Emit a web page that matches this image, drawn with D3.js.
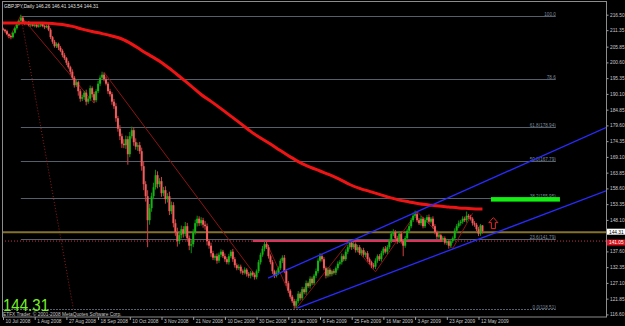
<!DOCTYPE html>
<html>
<head>
<meta charset="utf-8">
<script src="https://cdn.jsdelivr.net/npm/d3@7"></script>
<style>
  html, body { margin: 0; padding: 0; background: #000; }
  svg { display: block; }
</style>
</head>
<body>
<div id="chart"></div>
<script>
// daily closes GBPJPY, 10 Jul 2008 .. 14 May 2009
const closes = [
  211.5,211.0,210.0,209.4,209.0,210.5,212.0,213.2,214.5,215.5,
  214.0,213.5,213.8,213.0,213.3,212.8,213.2,212.5,212.9,213.4,
  212.7,212.3,212.8,211.5,209.0,207.5,206.0,206.8,205.5,204.5,
  203.0,202.0,200.5,199.0,197.5,195.5,193.0,194.0,191.0,188.5,
  189.0,190.5,187.5,188.5,192.0,190.0,188.0,191.0,193.5,195.5,
  196.5,195.0,193.5,191.0,190.0,187.5,186.0,182.0,178.5,176.0,
  173.5,173.0,175.0,170.0,176.0,178.0,174.0,172.5,173.0,171.0,
  166.0,160.0,156.0,148.0,152.0,156.0,159.0,163.0,160.0,161.0,
  157.0,158.0,155.0,156.0,151.0,153.0,147.0,144.0,141.0,143.0,
  145.0,143.5,146.0,142.0,139.5,140.0,144.0,147.0,148.5,147.0,
  148.0,146.5,146.0,141.0,139.5,137.0,135.5,136.0,134.5,136.5,
  137.5,136.0,135.0,134.0,136.0,137.5,135.0,133.0,132.0,132.5,
  131.0,130.5,131.5,130.0,129.5,130.5,129.8,129.0,131.0,134.0,
  136.5,138.5,140.0,139.0,136.0,134.0,131.0,129.5,130.5,132.0,
  134.5,135.5,131.0,127.0,124.5,122.5,121.0,119.5,121.0,123.5,
  122.0,125.0,124.0,127.0,126.0,128.5,127.0,129.5,131.0,134.5,
  136.0,135.0,132.0,129.5,131.5,130.0,131.0,130.5,132.0,133.5,
  134.0,136.0,135.0,137.5,139.0,140.5,139.0,140.0,138.0,139.0,
  137.0,138.0,136.5,137.0,135.0,134.0,133.0,132.5,134.5,136.0,
  135.0,137.0,138.5,137.5,139.0,141.0,143.5,144.0,142.0,141.0,
  143.5,141.0,139.5,142.0,144.5,146.0,148.0,149.5,150.0,148.0,
  147.0,148.5,146.0,148.0,149.0,147.5,148.5,146.0,144.0,142.5,
  143.0,141.5,142.0,140.5,141.0,139.5,141.0,142.0,144.5,146.0,
  147.0,147.5,148.5,148.0,149.5,149.0,148.5,147.0,146.5,145.0,
  143.5,146.26,144.31
];
const firstOpen = 211.8;

// wick lengths above / below the body
const upperWick = [
  0.4,0.3,0.5,0.3,0.4,0.3,0.5,0.4,0.3,1.0,
  0.5,0.3,0.4,0.6,0.3,0.5,0.4,0.3,0.5,0.4,
  0.3,0.5,0.4,0.6,0.5,0.4,0.6,0.5,0.4,0.6,
  0.5,0.7,0.4,0.6,0.5,0.8,0.6,0.9,0.5,0.7,
  0.8,0.6,1.0,0.7,0.9,0.6,0.8,0.7,0.9,0.8,
  1.0,0.7,0.9,0.6,0.8,0.7,0.9,1.0,0.8,1.2,
  0.9,1.5,1.2,1.0,1.4,1.2,1.0,1.3,0.9,1.1,
  1.2,1.6,1.0,2.0,1.4,1.2,1.5,1.8,1.3,1.0,
  1.4,1.1,1.3,1.0,1.5,1.2,1.0,1.3,1.5,1.1,
  1.2,1.0,1.4,1.1,0.9,1.3,1.0,1.2,1.0,0.8,
  1.0,0.8,1.2,0.9,0.7,1.0,0.8,0.6,0.9,0.7,
  0.8,0.6,0.9,0.7,0.8,0.6,0.9,0.7,0.6,0.8,
  0.7,0.6,0.8,0.5,0.7,0.6,0.5,0.7,0.6,0.8,
  0.7,0.9,1.0,1.2,0.8,0.6,0.7,0.5,0.8,0.6,
  0.7,0.8,0.9,0.6,0.7,0.5,0.6,0.8,0.7,0.9,
  0.6,0.8,0.7,0.9,0.6,0.8,0.7,0.6,0.9,0.8,
  1.0,0.8,0.7,0.6,0.8,0.7,0.5,0.7,0.6,0.8,
  0.7,0.9,0.6,0.8,0.7,0.9,0.8,0.7,0.6,0.8,
  0.7,0.6,0.8,0.5,0.7,0.6,0.5,0.7,0.8,0.6,
  0.7,0.8,0.6,0.9,0.7,0.8,0.9,1.0,0.7,0.8,
  0.9,0.7,0.6,0.8,0.7,0.9,0.8,1.0,1.2,0.8,
  0.7,0.9,0.6,0.8,0.7,0.9,0.6,0.8,0.7,0.6,
  0.8,0.5,0.7,0.6,0.8,0.5,0.7,0.6,0.8,0.7,
  0.9,0.6,0.8,0.7,1.4,0.6,0.8,0.5,0.7,0.6,
  0.8,0.5,0.15
];
const lowerWick = [
  0.4,0.5,0.3,0.6,0.7,0.4,0.3,0.5,0.4,0.3,
  0.4,0.5,0.3,0.4,0.6,0.3,0.5,0.4,0.3,0.5,
  0.4,0.6,0.3,0.5,0.6,0.7,0.5,0.6,0.8,0.5,
  0.7,0.6,0.8,0.5,0.9,0.7,0.8,0.6,1.5,1.0,
  0.8,0.9,1.2,0.7,0.8,1.1,0.9,0.7,0.6,0.8,
  0.5,0.7,0.6,0.9,0.8,1.0,0.9,1.2,1.0,1.3,
  1.4,1.0,1.2,3.5,1.0,0.8,1.2,1.0,1.4,0.9,
  1.5,2.0,1.8,9.0,1.5,1.2,1.0,0.8,1.4,1.0,
  1.2,1.0,1.5,1.1,1.3,1.0,1.4,1.2,1.8,1.0,
  1.1,1.3,0.9,1.2,1.5,2.5,1.0,0.8,1.1,0.9,
  0.8,1.0,1.2,1.4,1.0,1.2,0.8,0.9,1.0,0.7,
  0.8,0.6,0.9,0.7,0.8,0.6,0.9,0.8,0.7,0.6,
  0.8,0.7,0.6,0.8,0.7,0.9,0.6,0.8,0.7,0.6,
  0.8,0.7,0.9,0.6,0.8,0.7,0.9,0.8,0.6,0.7,
  0.6,0.8,0.7,0.9,0.8,0.7,0.6,1.0,0.8,0.7,
  0.8,0.6,0.7,0.9,0.6,0.8,0.7,0.6,0.8,0.7,
  0.6,0.8,0.7,0.9,0.6,0.8,0.7,0.6,0.8,0.7,
  0.6,0.8,0.7,0.6,0.8,0.7,0.9,0.6,0.8,0.7,
  0.6,0.8,0.7,0.9,0.8,0.7,1.0,0.6,0.8,0.7,
  0.6,0.8,0.7,0.6,0.8,0.7,0.6,0.8,0.7,0.9,
  0.6,0.8,3.5,0.7,0.6,0.8,0.7,0.6,0.8,0.7,
  0.6,0.8,0.7,0.6,0.8,0.7,0.6,0.8,0.7,0.9,
  0.6,0.8,0.7,0.6,0.8,1.0,0.7,0.6,0.8,0.7,
  0.6,0.8,0.7,0.6,0.8,0.7,0.6,0.8,0.7,0.6,
  0.8,0.7,0.77
];

// moving average (red curve), sampled every 5 bars
const maBars = [0,5,10,15,20,25,30,35,40,45,50,55,60,65,70,75,80,85,90,95,100,105,110,115,120,
  125,130,135,140,145,150,155,160,165,170,175,180,185,190,195,200,205,210,215,220,225,230,235,240,242];
const maValues = [213.7,213.7,213.7,213.7,213.7,213.6,213.2,212.6,211.7,210.9,210.2,209.4,208.4,206.7,
  204.6,202.6,200.6,198.1,195.4,192.7,189.9,187.6,185.2,182.7,180.2,177.6,175.4,173.4,171.2,169.1,
  167.2,165.7,164.4,163.1,161.6,159.9,158.6,157.6,156.6,155.6,154.7,154.1,153.5,153.1,152.7,152.4,
  152.1,151.9,151.7,151.7];

const dateBars = [0,16,32,48,64,80,96,112,128,144,160,176,192,208,224,240];
const dateLabels = ["10 Jul 2008","1 Aug 2008","27 Aug 2008","18 Sep 2008","10 Oct 2008","3 Nov 2008",
  "21 Nov 2008","10 Dec 2008","30 Dec 2008","19 Jan 2009","6 Feb 2009","25 Feb 2009","16 Mar 2009",
  "3 Apr 2009","23 Apr 2009","12 May 2009"];
const priceTicks = [216.50,211.35,205.85,200.60,195.35,190.10,184.85,179.60,174.35,169.10,163.85,
  158.60,153.35,148.10,137.60,132.35,127.10,121.85,116.60];

// fibonacci retracement
const fibPrices = [216.1,195.1,179.2,167.79,155.5,141.79,118.51];
const fibLabels = ["100.0","78.6","61.8(178.94)","50.0(167.79)","38.2(155.95)","23.6(141.79)","0.0(118.51)"];
const fibFrom = 9, fibTo = 279;
const fibDiagonal = [[9, 216.1], [35.5, 118.51]];

// hand drawn lines [bar, price]
const trendLines = [
  [[9, 216.0], [46, 187.0]],
  [[51, 197.3], [128, 129.1]]
];
const zigzag = [[0, 212.2], [3, 208.6], [9, 216.3]];
const zigzag2 = [[133, 140.6], [148, 118.6], [175, 141.1], [188, 130.8], [209, 150.9], [227, 138.6], [237, 150.3]];
const channelLow = [[148.5, 118.7], [205.5, 133.0]];
const channelHigh = [[133.8, 128.7], [205.5, 149.8]];
const supportLevel = 141.1, supportFrom = 126, supportTo = 222;
const redLevel = 141.05, redLabel = "141.05";
const bidLevel = 144.0, bidLabel = "144.31";
const targetBox = {from: 246.3, to: 281.1, top: 155.7, bottom: 154.2};
const arrowAt = [247.5, 145.2];

const title = "GBPJPY,Daily  146.26 146.41 143.54 144.31";
const lastPrice = "144.31";
const copyright = "ETFX Trader, \u00a9 2001-2008 MetaQuotes Software Corp.";

const W = 625, H = 326;
const plot = {left: 2, right: 606, top: 2, bottom: 317};
const x = d3.scaleLinear().domain([0, 240]).range([3, 478.5]);
const y = d3.scaleLinear().domain([116.6, 216.5]).range([314.4, 14.7]);
const FONT = "'Liberation Sans', Arial, sans-serif";

const svg = d3.select("#chart").append("svg")
  .attr("width", W).attr("height", H)
  .style("background", "#000");

svg.append("clipPath").attr("id", "clip").append("rect")
  .attr("x", plot.left).attr("y", plot.top)
  .attr("width", plot.right - plot.left).attr("height", plot.bottom - plot.top);

const g = svg.append("g").attr("clip-path", "url(#clip)");
const xEnd = x.invert(plot.right);
const line = d3.line().x(d => x(d[0])).y(d => y(d[1]));

// fib levels
g.selectAll("line.fib").data(fibPrices).enter().append("line")
  .attr("x1", (d, i) => i === 6 ? plot.left : x(fibFrom)).attr("x2", x(fibTo))
  .attr("y1", d => Math.round(y(d)) + 0.5).attr("y2", d => Math.round(y(d)) + 0.5)
  .attr("stroke", "#56606c").attr("stroke-width", 1)
  .attr("stroke-dasharray", (d, i) => i === 6 ? "2,1" : null);
g.selectAll("text.fib").data(fibLabels).enter().append("text")
  .attr("x", x(fibTo)).attr("y", (d, i) => Math.round(y(fibPrices[i])) - 0.5)
  .attr("text-anchor", "end").attr("font-family", FONT).attr("font-size", 4.6)
  .attr("fill", "#7d8c9c").text(d => d);
g.append("path").attr("d", line(fibDiagonal))
  .attr("fill", "none").attr("stroke", "#9a1a1a").attr("stroke-width", 1).attr("stroke-dasharray", "1,2");

// horizontal levels
g.append("line").attr("x1", plot.left).attr("x2", plot.right)
  .attr("y1", y(redLevel)).attr("y2", y(redLevel))
  .attr("stroke", "#c8304c").attr("stroke-width", 1).attr("stroke-dasharray", "1,2");
g.append("line").attr("x1", plot.left).attr("x2", plot.right)
  .attr("y1", y(bidLevel)).attr("y2", y(bidLevel))
  .attr("stroke", "#84722c").attr("stroke-width", 2);
g.append("line").attr("x1", x(supportFrom)).attr("x2", x(supportTo))
  .attr("y1", y(supportLevel)).attr("y2", y(supportLevel))
  .attr("stroke", "#d8345a").attr("stroke-width", 2);

// trend lines and zigzag
trendLines.forEach(t => {
  g.append("path").attr("d", line(t)).attr("fill", "none")
    .attr("stroke", "#8c1414").attr("stroke-width", 1);
});
[zigzag, zigzag2].forEach(z => {
  g.append("path").attr("d", line(z)).attr("fill", "none")
    .attr("stroke", "#8c1414").attr("stroke-width", 1);
});

// candles
const candles = closes.map((c, i) => {
  const o = i === 0 ? firstOpen : closes[i - 1];
  return {i, o, c, h: Math.max(o, c) + upperWick[i], l: Math.min(o, c) - lowerWick[i]};
});
const bull = "#14b414", bear = "#f45c5c";
g.selectAll("line.wick").data(candles).enter().append("line")
  .attr("x1", d => x(d.i)).attr("x2", d => x(d.i))
  .attr("y1", d => y(d.h)).attr("y2", d => y(d.l))
  .attr("stroke", d => d.c >= d.o ? "#0c940c" : "#d04040").attr("stroke-width", 1);
g.selectAll("rect.body").data(candles).enter().append("rect")
  .attr("x", d => x(d.i) - 1).attr("width", 2)
  .attr("y", d => y(Math.max(d.o, d.c)))
  .attr("height", d => Math.max(1, Math.abs(y(d.o) - y(d.c))))
  .attr("fill", d => d.c >= d.o ? bull : bear);

// moving average
g.append("path")
  .attr("d", d3.line().curve(d3.curveMonotoneX).x((d, k) => x(d)).y((d, k) => y(maValues[k]))(maBars))
  .attr("fill", "none").attr("stroke", "#ee1414").attr("stroke-width", 3);

// channel lines, extended to the right edge
[channelLow, channelHigh].forEach(c => {
  const slope = (c[1][1] - c[0][1]) / (c[1][0] - c[0][0]);
  const end = [xEnd, c[0][1] + slope * (xEnd - c[0][0])];
  g.append("path").attr("d", line([c[0], end])).attr("fill", "none")
    .attr("stroke", "#2a2aff").attr("stroke-width", 1.3);
});

// target box and arrow
g.append("rect")
  .attr("x", x(targetBox.from)).attr("width", x(targetBox.to) - x(targetBox.from))
  .attr("y", y(targetBox.top)).attr("height", y(targetBox.bottom) - y(targetBox.top))
  .attr("fill", "#12f012");
const ax = x(arrowAt[0]), ay = y(arrowAt[1]);
g.append("path")
  .attr("d", `M${ax - 2},${ay} L${ax - 2},${ay - 6} L${ax - 4.5},${ay - 6} L${ax},${ay - 11} L${ax + 4.5},${ay - 6} L${ax + 2},${ay - 6} L${ax + 2},${ay} Z`)
  .attr("fill", "none").attr("stroke", "#e02828").attr("stroke-width", 1);

// frame
svg.append("rect").attr("x", plot.left + 0.5).attr("y", plot.top - 0.5)
  .attr("width", plot.right - plot.left).attr("height", plot.bottom - plot.top + 0.5)
  .attr("fill", "none").attr("stroke", "#8c8c8c").attr("stroke-width", 1);

// axes
const yAxis = svg.append("g").attr("transform", `translate(${plot.right + 0.5},0)`)
  .call(d3.axisRight(y).tickValues(priceTicks).tickFormat(d3.format(".2f")).tickSize(2).tickPadding(1.5));
const xAxis = svg.append("g").attr("transform", `translate(0,${plot.bottom})`)
  .call(d3.axisBottom(x).tickValues(dateBars).tickFormat((d, i) => dateLabels[i]).tickSize(3).tickPadding(1));
[yAxis, xAxis].forEach(a => {
  a.select(".domain").remove();
  a.selectAll("line").attr("stroke", "#a0a0a0");
  a.selectAll("text").attr("fill", "#c8c8c8").attr("font-family", FONT).attr("font-size", 4.8);
});
xAxis.selectAll("text").attr("text-anchor", "start").attr("dx", 2).attr("y", 2.5);

// price boxes on the axis
[[bidLevel, bidLabel, "#ffffff", "#000"], [redLevel, redLabel, "#e0101c", "#fff"]].forEach(([v, t, bg, fg], k) => {
  const yy = y(v) + (k === 0 ? -0.5 : 1.5);
  svg.append("rect").attr("x", plot.right + 1).attr("y", yy - 3).attr("width", 19).attr("height", 6).attr("fill", bg);
  svg.append("text").attr("x", plot.right + 3).attr("y", yy + 1.8).attr("font-family", FONT)
    .attr("font-size", 4.8).attr("fill", fg).text(t);
});

// texts
svg.append("text").attr("x", 4).attr("y", 7.5).attr("font-family", FONT).attr("font-size", 4.8)
  .attr("fill", "#e0e0e0").text(title);
svg.append("text").attr("x", 3).attr("y", 310.5).attr("font-family", FONT).attr("font-size", 17)
  .attr("textLength", 46).attr("lengthAdjust", "spacingAndGlyphs")
  .attr("fill", "#78f028").text(lastPrice);
svg.append("text").attr("x", 3).attr("y", 315.5).attr("font-family", FONT).attr("font-size", 4.8)
  .attr("fill", "#c8c8c8").text(copyright);
</script>
</body>
</html>
